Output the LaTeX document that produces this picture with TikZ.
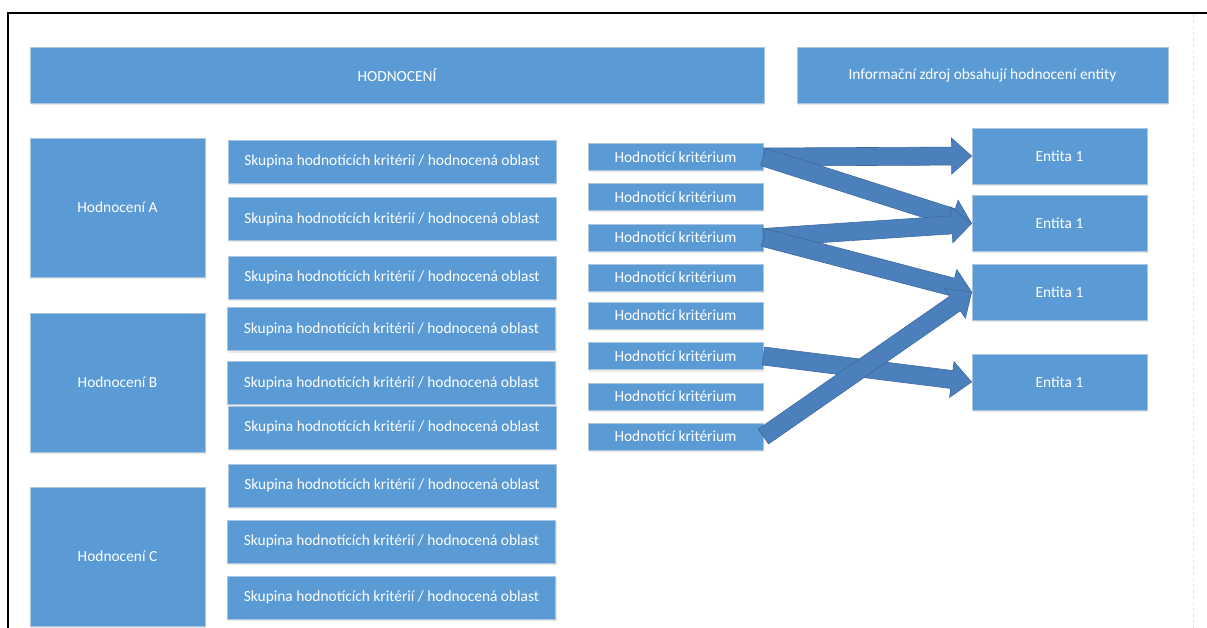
\documentclass[tikz,border=0pt]{standalone}
\usepackage{fontspec}
\setmainfont{Carlito}
\usetikzlibrary{calc,shadows}

\definecolor{boxblue}{RGB}{91,155,213}
\definecolor{boxline}{RGB}{172,196,224}
\definecolor{arrowblue}{RGB}{76,128,188}
\definecolor{arrowline}{RGB}{60,106,160}

\tikzset{
  box/.style={rectangle, fill=boxblue, draw=boxline, line width=0.8pt,
    text=white, inner sep=0pt, align=center,
    font=\fontsize{15.4}{18}\selectfont,
    drop shadow={opacity=0.18, shadow xshift=1pt, shadow yshift=-2pt}},
  bigbox/.style={box, minimum width=734pt, minimum height=56pt},
  headbox/.style={box, minimum width=371pt, minimum height=56pt},
  hbox/.style={box, minimum width=175pt, minimum height=139pt},
  sbox/.style={box, minimum width=328pt, minimum height=43pt},
  kbox/.style={box, minimum width=175pt, minimum height=27pt},
  ebox/.style={box, minimum width=175pt, minimum height=56pt},
  blockarrow/.style={fill=arrowblue, draw=arrowline, line width=0.6pt, line join=miter}
}

% block arrow from #1 to #2
\newcommand{\blockarrow}[2]{%
  \coordinate (bc) at ($(#2)!20pt!(#1)$);
  \draw[blockarrow] ($(#1)!9pt!90:(#2)$) -- ($(bc)!9pt!90:(#2)$)
    -- ($(bc)!18pt!90:(#2)$) -- (#2) -- ($(bc)!18pt!-90:(#2)$)
    -- ($(bc)!9pt!-90:(#2)$) -- ($(#1)!9pt!-90:(#2)$) -- cycle;}

\begin{document}
\begin{tikzpicture}[x=1pt, y=-1pt]

  \useasboundingbox (0,0) rectangle (1207,628);

  % frame
  \draw [line width=2pt] (8,628) -- (8,13) -- (1208,13);
  \draw [black!12, dashed, line width=0.8pt] (1193,14) -- (1193,628);

  % top row
  \node [bigbox] (hodn) at (397, 75) {HODNOCENÍ};
  \node [headbox] (zdroj) at (982.5, 75) {Informační zdroj obsahují hodnocení entity};

  % evaluations
  \node [hbox] (hA) at (117.5, 207.5) {Hodnocení A};
  \node [hbox] (hB) at (117.5, 382.5) {Hodnocení B};
  \node [hbox] (hC) at (117.5, 556.5) {Hodnocení C};

  % groups of criteria
  \node [sbox] (s1) at (392, 161.5) {Skupina hodnotících kritérií / hodnocená oblast};
  \node [sbox] (s2) at (392, 219) {Skupina hodnotících kritérií / hodnocená oblast};
  \node [sbox] (s3) at (392, 277.5) {Skupina hodnotících kritérií / hodnocená oblast};
  \node [sbox] (s4) at (391.5, 329) {Skupina hodnotících kritérií / hodnocená oblast};
  \node [sbox] (s5) at (391.5, 383) {Skupina hodnotících kritérií / hodnocená oblast};
  \node [sbox] (s6) at (392, 427.5) {Skupina hodnotících kritérií / hodnocená oblast};
  \node [sbox] (s7) at (392, 485.5) {Skupina hodnotících kritérií / hodnocená oblast};
  \node [sbox] (s8) at (391.5, 541.5) {Skupina hodnotících kritérií / hodnocená oblast};
  \node [sbox] (s9) at (391.5, 597.5) {Skupina hodnotících kritérií / hodnocená oblast};

  % criteria
  \node [kbox] (k1) at (675.5, 157) {Hodnotící kritérium};
  \node [kbox] (k2) at (675.5, 197) {Hodnotící kritérium};
  \node [kbox] (k3) at (675.5, 237.5) {Hodnotící kritérium};
  \node [kbox] (k4) at (675.5, 277.5) {Hodnotící kritérium};
  \node [kbox] (k5) at (675.5, 315.5) {Hodnotící kritérium};
  \node [kbox] (k6) at (675.5, 356) {Hodnotící kritérium};
  \node [kbox] (k7) at (675.5, 396.5) {Hodnotící kritérium};
  \node [kbox] (k8) at (675.5, 436.5) {Hodnotící kritérium};

  % entities
  \node [ebox] (e1) at (1059.5, 156) {Entita 1};
  \node [ebox] (e2) at (1059.5, 223.5) {Entita 1};
  \node [ebox] (e3) at (1059.5, 292) {Entita 1};
  \node [ebox] (e4) at (1059.5, 382) {Entita 1};

  % links
  \blockarrow{k1.east}{e1.west}
  \blockarrow{k1.east}{e2.west}
  \blockarrow{k3.east}{e2.west}
  \blockarrow{k3.east}{e3.west}
  \blockarrow{k6.east}{e4.west}
  \blockarrow{k8.east}{e3.west}

\end{tikzpicture}
\end{document}
